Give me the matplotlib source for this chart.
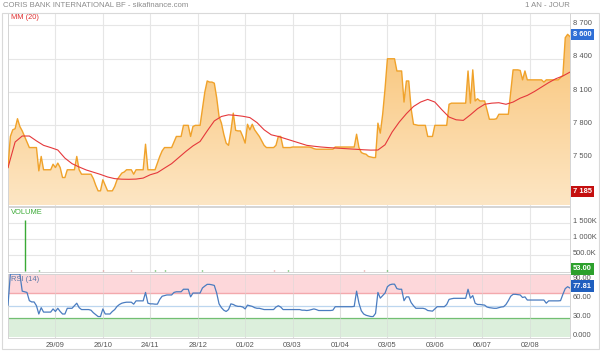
import numpy as np
import matplotlib
matplotlib.use("Agg")
import matplotlib.pyplot as plt
from matplotlib.colors import LinearSegmentedColormap
from matplotlib.patches import Rectangle
from matplotlib.transforms import offset_copy

plt.rcParams["font.family"] = ["Liberation Sans", "DejaVu Sans"]

title = "CORIS BANK INTERNATIONAL BF - sikafinance.com"
period = "1 AN - JOUR"

# daily close (trading-day index)
price = [
    7420, 7700, 7760, 7770, 7860, 7790, 7750, 7700, 7650, 7600,
    7600, 7600, 7600, 7390, 7520, 7400, 7400, 7400, 7400, 7450,
    7420, 7460, 7420, 7330, 7330, 7400, 7400, 7400, 7400, 7520,
    7400, 7360, 7360, 7360, 7360, 7360, 7320, 7260, 7210, 7210,
    7310, 7260, 7210, 7210, 7210, 7250, 7310, 7340, 7370, 7380,
    7400, 7400, 7400, 7360, 7400, 7400, 7400, 7400, 7630, 7400,
    7400, 7400, 7400, 7460, 7520, 7570, 7600, 7600, 7600, 7600,
    7650, 7700, 7700, 7700, 7800, 7800, 7800, 7700, 7790, 7800,
    7800, 7800, 7950, 8100, 8200, 8190, 8190, 8180, 8050, 7880,
    7820, 7720, 7640, 7620, 7750, 7910, 7755, 7750, 7750, 7700,
    7640, 7810, 7760, 7810, 7760, 7730, 7700, 7660, 7620, 7600,
    7600, 7600, 7600, 7620, 7700, 7700, 7600, 7600, 7600, 7600,
    7605, 7605, 7605, 7605, 7605, 7605, 7605, 7605, 7600, 7590,
    7585, 7585, 7585, 7585, 7585, 7585, 7585, 7585, 7605, 7605,
    7605, 7605, 7605, 7605, 7605, 7605, 7605, 7720, 7600, 7555,
    7545, 7540, 7520, 7515, 7510, 7510, 7820, 7730, 7900, 8130,
    8400, 8400, 8400, 8400, 8290, 8290, 8290, 8010, 8200, 8200,
    7950, 7810, 7805, 7800, 7800, 7800, 7800, 7700, 7700, 7700,
    7800, 7800, 7800, 7800, 7800, 7800, 7990, 8000, 8000, 8000,
    8000, 8000, 8000, 8000, 8290, 8000, 8300, 8020, 8040, 8020,
    8020, 8020, 7940, 7855, 7855, 7855, 7860, 7900, 7900, 7900,
    7900, 7900, 8100, 8300, 8300, 8300, 8295, 8210, 8290, 8210,
    8210, 8210, 8210, 8210, 8210, 8210, 8190, 8210, 8210, 8210,
    8210, 8210, 8210, 8230, 8250, 8590, 8620, 8600,
]

# 20-day moving average, read every 3rd day
ma_step = 3
ma20 = [
    7420, 7650, 7704, 7704, 7660, 7620, 7600, 7578, 7505, 7455,
    7425, 7398, 7378, 7358, 7335, 7320, 7315, 7314, 7316, 7325,
    7355, 7374, 7415, 7455, 7510, 7565, 7615, 7655, 7750, 7840,
    7880, 7895, 7890, 7882, 7870, 7825, 7760, 7715, 7700, 7680,
    7660, 7640, 7620, 7612, 7605, 7600, 7596, 7592, 7588, 7584,
    7580, 7577, 7578, 7625, 7740, 7830, 7905, 7970, 8010, 8034,
    8010, 7940, 7875, 7850, 7845, 7895, 7950, 7990, 8000, 8004,
    7990, 8010, 8045, 8070, 8105, 8145, 8185, 8220, 8245, 8280,
]

rsi14 = [
    51, 100, 100, 100, 100, 100, 73, 72, 71, 58,
    56, 56, 50, 37, 47, 40, 40, 40, 40, 45,
    41, 46, 41, 37, 37, 46, 46, 46, 50, 54,
    47, 44, 44, 44, 44, 43, 39, 36, 33, 33,
    45, 37, 37, 37, 41, 44, 49, 52, 54, 55,
    55.6, 55.6, 55.6, 52.5, 57.7, 57.7, 57.7, 57.7, 71, 54,
    53, 53, 52.5, 52.5, 60, 65, 66, 67, 67, 67,
    71, 72, 72, 72, 76, 76, 76, 64, 70, 70,
    70, 70, 78, 81, 83.7, 83.7, 83, 82, 70, 53,
    47, 43, 41, 44, 53, 52, 50, 49, 49, 48,
    45, 51, 50, 49, 47, 46, 46, 45, 44, 44,
    44, 44, 44, 48, 50, 48, 44, 44, 44, 44,
    44, 44, 44, 44, 43, 43, 42.5, 43, 44, 45,
    44, 42.5, 42.5, 42.5, 42.5, 42.5, 42.5, 43, 48.5, 48.5,
    48.5, 48.5, 48.5, 48.5, 48.5, 48.5, 49, 73, 54, 42,
    37, 35, 34, 33, 33, 38, 71, 62, 66, 70,
    80, 83, 84, 84, 77, 76, 76, 58, 64, 64,
    55, 50, 46, 46, 46, 46, 45, 42.5, 42, 41.5,
    45, 48.5, 48.5, 48.5, 48.5, 52, 60, 61, 61.7, 61.7,
    61.7, 61.7, 61.7, 61.7, 76, 62, 66, 54, 52, 52,
    51.5, 51, 48, 47, 46.5, 46, 46, 47, 48, 48.5,
    52, 58, 65, 68, 68, 67.5, 67, 63, 64, 59,
    59, 59, 59, 59, 59, 59, 59, 54, 57.7, 57.7,
    57.7, 57.7, 57.7, 58, 68, 77, 80, 77.81,
]

# volume: only the days with a visible bar
vol_idx = [7, 13, 40, 52, 62, 66, 82, 112, 118, 150, 160, 200]
vol_val = [1590e3, 15e3, 15e3, 20e3, 12e3, 15e3, 15e3, 15e3, 12e3, 15e3, 12e3, 10e3]
vol_up = [True, True, False, False, True, True, True, False, True, False, True, True]

x_labels = ["29/09", "26/10", "24/11", "28/12", "01/02", "03/03",
            "01/04", "03/05", "03/06", "06/07", "02/08"]
x_label_pos = [20, 40, 60, 80, 100, 120, 140, 160, 180, 200, 220]

price_ticks = [7200, 7500, 7800, 8100, 8400, 8700]
vol_ticks = [500e3, 1000e3, 1500e3]
vol_tick_labels = ["500.0K", "1 000K", "1 500K"]
rsi_ticks = [0, 30, 60, 90]
rsi_tick_labels = ["0.000", "30.00", "60.00", "90.00"]

last_price = 8600
low_price = 7185
last_vol = 53.00
last_rsi = 77.81

W, H = 600, 351
FS = 5.4
grid_c = "#e6e6e6"
spine_c = "#d4d4d4"
label_c = "#555555"

fig = plt.figure(figsize=(W / 100, H / 100), dpi=100)


def px_axes(left, top, right, bottom):
    return fig.add_axes([left / W, 1 - bottom / H, (right - left) / W, (bottom - top) / H])


ax_p = px_axes(8, 12.7, 570, 205.5)
ax_v = px_axes(8, 206.5, 570, 271.5)
ax_r = px_axes(8, 273.5, 570, 338)

xs = np.arange(len(price))
xmax = len(price) - 1


def right_label(ax, v, s, fc=None):
    tr = offset_copy(ax.get_yaxis_transform(), fig=fig, x=3, y=2, units="dots")
    if fc is None:
        ax.text(1, v, s, transform=tr, ha="left", va="center", fontsize=FS,
                color=label_c, clip_on=False)
    else:
        ax.text(1, v, s, transform=tr, ha="left", va="center", fontsize=FS,
                color="white", fontweight="bold", clip_on=False, zorder=10,
                bbox=dict(boxstyle="square,pad=0.3", fc=fc, ec="none"))


for ax in (ax_p, ax_v, ax_r):
    ax.set_xlim(0, xmax)
    ax.set_xticks(x_label_pos)
    ax.set_yticks([])
    ax.tick_params(axis="x", length=0, labelbottom=False)
    for s in ax.spines.values():
        s.set_color(spine_c)
        s.set_linewidth(0.7)
    for xp in x_label_pos:
        ax.axvline(xp, color=grid_c, lw=0.8, zorder=0)

# price panel
p_lo, p_hi = 7078, 8815
for t in price_ticks:
    ax_p.axhline(t, color=grid_c, lw=0.8, zorder=0)
    right_label(ax_p, t, f"{t:,}".replace(",", " "))

poly = ax_p.fill_between(xs, price, p_lo, color="none", lw=0)
cmap = LinearSegmentedColormap.from_list("fade", ["#fde6c4", "#f8c06e"])
grad = np.linspace(0, 1, 256).reshape(-1, 1)
img = ax_p.imshow(grad, extent=[0, xmax, p_lo, p_hi], origin="lower",
                  aspect="auto", cmap=cmap, zorder=1)
img.set_clip_path(poly.get_paths()[0], ax_p.transData)
ax_p.plot(xs, price, color="#f0a22a", lw=1.0, zorder=3)
ma_x = np.arange(0, len(price), ma_step)[:len(ma20)]
ax_p.plot(ma_x, ma20, color="#e5383b", lw=0.8, zorder=4)
ax_p.set_xlim(0, xmax)
ax_p.set_ylim(p_lo, p_hi)
ax_p.text(3 / 562, 1 - 4.5 / 193, "MM (20)", transform=ax_p.transAxes,
          fontsize=FS, color="#e03030", va="center")
right_label(ax_p, last_price, f"{last_price:,}".replace(",", " "), fc="#2f6fd6")
right_label(ax_p, low_price, f"{low_price:,}".replace(",", " "), fc="#c40f0f")

# volume panel
for t, lab in zip(vol_ticks, vol_tick_labels):
    ax_v.axhline(t, color=grid_c, lw=0.8, zorder=0)
    right_label(ax_v, t, lab)
ax_v.vlines(vol_idx, 0, vol_val,
            colors=["#3aaa35" if u else "#e08a88" for u in vol_up], lw=1.0)
ax_v.set_ylim(-20e3, 2030e3)
ax_v.text(3 / 562, 1 - 6 / 65, "VOLUME", transform=ax_v.transAxes,
          fontsize=FS, color="#3aaa35", va="center")
right_label(ax_v, last_vol, f"{last_vol:.2f}", fc="#2ca02c")

# RSI panel
ax_r.axhspan(70, 100, color="#fdd7da", lw=0, zorder=0)
ax_r.axhspan(0, 30, color="#dcefdc", lw=0, zorder=0)
ax_r.axhline(70, color="#f3a9ad", lw=1.0, zorder=1)
ax_r.axhline(30, color="#72bf72", lw=0.9, zorder=1)
ax_r.axhline(50, color="#bcd6ef", lw=0.9, zorder=1)
for xp in x_label_pos:
    ax_r.axvline(xp, color="#d8d8d8", lw=0.6, alpha=0.6, zorder=1)
ax_r.plot(np.arange(len(rsi14)), rsi14, color="#4a7cc0", lw=0.9, zorder=3)
ax_r.set_ylim(-0.8, 100.8)
for t, lab in zip(rsi_ticks, rsi_tick_labels):
    right_label(ax_r, t, lab)
right_label(ax_r, last_rsi, f"{last_rsi:.2f}", fc="#1f5fbf")
ax_r.text(3 / 562, 1 - 6 / 64.5, "RSI (14)", transform=ax_r.transAxes,
          fontsize=FS, color="#5a78a8", va="center", zorder=5)
ax_r.set_xticklabels(x_labels)
ax_r.tick_params(axis="x", labelbottom=True, labelsize=FS, labelcolor=label_c, pad=3)

# header and outer frame
fig.text(3 / W, 1 - 5.5 / H, title, fontsize=FS + 0.2, color="#8c8c8c", va="center")
fig.text(570 / W, 1 - 5.5 / H, period, fontsize=FS + 0.2, color="#8c8c8c",
         va="center", ha="right")
fig.add_artist(Rectangle((1.5 / W, 2.5 / H), 597.5 / W, 335.8 / H,
                         transform=fig.transFigure, fill=False,
                         ec="#d9d9d9", lw=0.8))

fig.savefig("out.png", dpi=100)
